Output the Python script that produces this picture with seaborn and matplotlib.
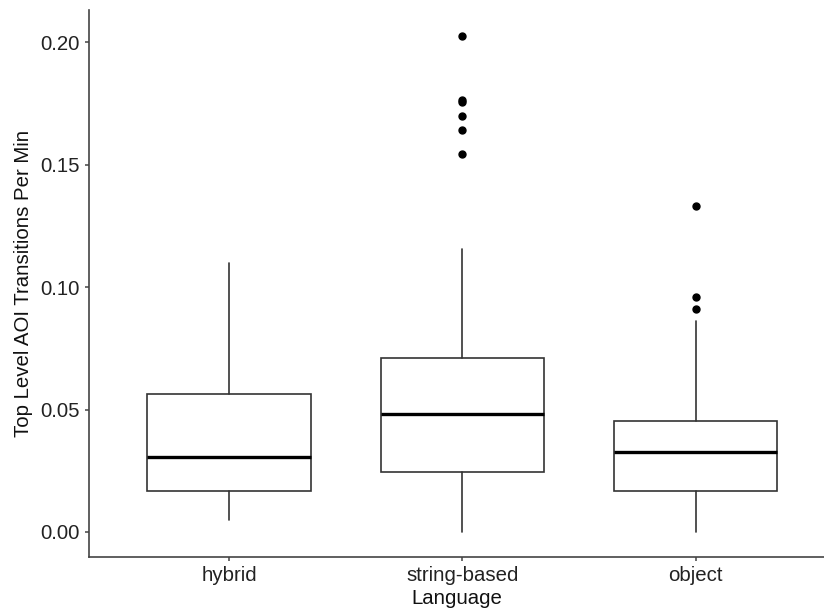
import matplotlib
matplotlib.use("Agg")
import matplotlib.pyplot as plt
import seaborn as sns

# Summary statistics per language group
languages = ["hybrid", "string-based", "object"]
whisker_low = [0.0049, 0.0000, 0.0000]
q1 = [0.0168, 0.0245, 0.0169]
medians = [0.0306, 0.0480, 0.0326]
q3 = [0.0563, 0.0711, 0.0453]
whisker_high = [0.1098, 0.1155, 0.0862]
outliers = [
    [],
    [0.2027, 0.1765, 0.1757, 0.1698, 0.1643, 0.1544],
    [0.1333, 0.0959, 0.0910],
]

y_ticks = [0.00, 0.05, 0.10, 0.15, 0.20]
y_tick_labels = ["0.00", "0.05", "0.10", "0.15", "0.20"]

sns.set_theme(style="ticks")
plt.rcParams["font.family"] = ["Liberation Sans", "DejaVu Sans"]

fig = plt.figure(figsize=(8.24, 6.13), dpi=100)
ax = fig.add_axes([0.108, 0.0914, 0.892, 0.8923])

stats = []
for i, name in enumerate(languages):
    stats.append({
        "label": name,
        "whislo": whisker_low[i],
        "q1": q1[i],
        "med": medians[i],
        "q3": q3[i],
        "whishi": whisker_high[i],
        "fliers": outliers[i],
    })

line_col = "#333333"
ax.bxp(
    stats,
    positions=range(len(languages)),
    widths=0.7,
    showcaps=False,
    patch_artist=True,
    boxprops=dict(facecolor="white", edgecolor=line_col, linewidth=1.2),
    whiskerprops=dict(color=line_col, linewidth=1.2),
    medianprops=dict(color="black", linewidth=2.4, solid_capstyle="butt"),
    flierprops=dict(marker="o", markersize=5, markerfacecolor="black",
                    markeredgecolor="black", linestyle="none"),
)

ax.set_xlim(-0.6, 2.55)
ax.set_ylim(-0.0102, 0.2132)
ax.set_xticks(range(len(languages)))
ax.set_xticklabels(languages)
ax.set_yticks(y_ticks)
ax.set_yticklabels(y_tick_labels)

sns.despine(ax=ax)
for side in ("left", "bottom"):
    ax.spines[side].set_color("#444444")
    ax.spines[side].set_linewidth(1.2)

ax.tick_params(axis="both", labelsize=14.7, colors="#444444", length=3.2,
               width=1.1, pad=3.5, labelcolor="#222222")
ax.set_xlabel("Language", fontsize=14.7, color="#111111", labelpad=3)
ax.set_ylabel("Top Level AOI Transitions Per Min", fontsize=14.7,
              color="#111111", labelpad=5)

fig.savefig("out.png", dpi=100)
